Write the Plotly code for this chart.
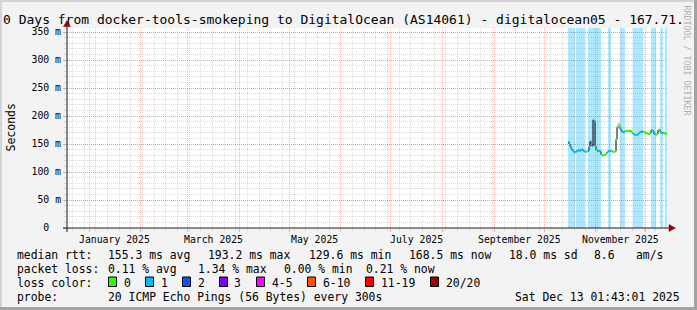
import plotly.graph_objects as go
import pandas as pd

# ---------------- data ----------------
title_text = "0 Days from docker-tools-smokeping to DigitalOcean (AS14061) - digitalocean05 - 167.71."
axis_start = "2024-12-18 19:00"
axis_end = "2025-12-13 19:00"
data_start = "2025-10-15 09:24"
step_minutes = 864  # one consolidated rrd step (14.4 h)

median_ms = [154, 150, 146, 142, 139, 137, 135, 135, 137, 138,
             139, 138, 138, 140, 140, 138, 137, 136, 136, 137,
             138, 145, 155, 150, 146, 193.2, 190, 146, 140, 138,
             138, 137, 137, 131, 130, 129.6, 130, 131, 133, 136,
             137, 137, 138, 137, 137, 136, 136, 137, 158, 180,
             181, 178, 177, 174, 172, 171, 172, 173, 173, 174,
             173, 173, 174, 172, 170, 168, 167, 166, 166, 167,
             168, 170, 172, 172, 172, 172, 171, 170, 170, 169,
             168, 168, 170, 174, 175, 172, 168, 167, 167, 168,
             175, 176, 172, 170, 169, 170, 170, 168, 168.5]

loss_pings = [1, 1, 1, 1, 1, 1, 1, 0, 1, 1,
              1, 1, 1, 1, 1, 1, 1, 0, 0, 0,
              1, 1, 1, 1, 1, 1, 1, 0.4, 0.4, 1,
              1, 1, 1, 0, 0, 0, 0, 0, 0, 0,
              1, 1, 1, 0, 0, 0, 0, 0, 0, 0,
              0, 0, 1, 1, 1, 1, 1, 0, 0, 0,
              0, 0, 0, 0, 0, 1, 1, 1, 1, 1,
              1, 1, 1, 1, 1, 0, 0, 0, 0, 0,
              0, 0, 0, 1, 1, 1, 1, 1, 0, 0,
              0, 0, 1, 1, 1, 0, 0, 0.3, 0.3]

smoke_index = [49, 50, 51, 52, 53]
smoke_top_ms = [184, 188, 188, 185, 181]

loss_labels = ["0", "1", "2", "3", "4-5", "6-10", "11-19", "20/20"]
loss_colors = ["#26ff00", "#00b8ff", "#0059ff", "#7e00ff", "#ff00ff", "#ff5500", "#ff0000", "#a10000"]
loss_upper = [0, 1, 2, 3, 5, 10, 19, 20]

y_tick_vals = [0, 50, 100, 150, 200, 250, 300, 350]
y_tick_text = ["0\u00a0\u00a0", "50 m", "100 m", "150 m", "200 m", "250 m", "300 m", "350 m"]
y_max = 357.14

month_label_dates = ["2025-01-16 12:00", "2025-03-16 12:00", "2025-05-16 12:00",
                     "2025-07-16 12:00", "2025-09-16 00:00", "2025-11-16 00:00"]
month_label_text = ["January 2025", "March 2025", "May 2025",
                    "July 2025", "September 2025", "November 2025"]

rtt_items = ["155.3 ms avg", "193.2 ms max", "129.6 ms min", "168.5 ms now", "18.0 ms sd", "8.6", "am/s"]
loss_items = ["0.11 % avg", "1.34 % max", "0.00 % min", "0.21 % now"]
probe_text = "20 ICMP Echo Pings (56 Bytes) every 300s"
stamp_text = "Sat Dec 13 01:43:01 2025"
watermark = "RRDTOOL / TOBI OETIKER"

# ---------------- layout helpers ----------------
W, H = 697, 310
L, R, T, B = 67, 30, 28, 82
PW, PH = W - L - R, H - T - B
FONT = "DejaVu Sans Mono"


def px(x):
    return (x - L) / PW


def py(y):
    return (T + PH - y) / PH


step = pd.Timedelta(minutes=step_minutes)
times = list(pd.date_range(data_start, periods=len(median_ms), freq=f"{step_minutes}min"))
t_end = times[-1] + step


def loss_class(v):
    r = round(v)
    for k, u in enumerate(loss_upper):
        if r <= u:
            return k
    return len(loss_upper) - 1


fig = go.Figure()

# smoke
sx = [times[i] for i in smoke_index] + [times[smoke_index[-1]] + step]
sb = [median_ms[i] for i in smoke_index] + [median_ms[smoke_index[-1]]]
st = smoke_top_ms + [smoke_top_ms[-1]]
fig.add_trace(go.Scatter(x=sx, y=sb, mode="lines", line=dict(width=0, shape="hv"),
                         hoverinfo="skip", showlegend=False))
fig.add_trace(go.Scatter(x=sx, y=st, mode="lines", line=dict(width=0, shape="hv"),
                         fill="tonexty", fillcolor="rgba(120,120,120,0.45)",
                         hoverinfo="skip", showlegend=False))

# black median step line
fig.add_trace(go.Scatter(x=times + [t_end], y=median_ms + [median_ms[-1]], mode="lines",
                         line=dict(color="#000000", width=1, shape="hv"),
                         hoverinfo="skip", showlegend=False))

# loss-coloured median segments
for k, col in enumerate(loss_colors):
    xs, ys = [], []
    for i, v in enumerate(median_ms):
        if loss_class(loss_pings[i]) == k:
            xs += [times[i], times[i] + step, None]
            ys += [v, v, None]
    if xs:
        fig.add_trace(go.Scatter(x=xs, y=ys, mode="lines", line=dict(color=col, width=2),
                                 hoverinfo="skip", showlegend=False))

shapes = []
# loss background bands
i = 0
n = len(loss_pings)
while i < n:
    if loss_pings[i] > 0:
        j = i
        while j + 1 < n and loss_pings[j + 1] > 0:
            j += 1
        shapes.append(dict(type="rect", xref="x", yref="paper",
                           x0=times[i].isoformat(), x1=(times[j] + step).isoformat(), y0=0, y1=1,
                           fillcolor="rgba(0,184,255,0.32)", line=dict(width=0), layer="below"))
        i = j + 1
    else:
        i += 1

axis_col = "#1a1a1a"
arrow_col = "#a00000"
# axes lines with arrows
shapes.append(dict(type="line", xref="paper", yref="paper", x0=px(67), x1=px(67), y0=py(232), y1=py(25),
                   line=dict(color=axis_col, width=1)))
shapes.append(dict(type="line", xref="paper", yref="paper", x0=px(63), x1=px(670), y0=py(228), y1=py(228),
                   line=dict(color=axis_col, width=1)))
shapes.append(dict(type="path", xref="paper", yref="paper",
                   path=f"M {px(63.5)} {py(26.5)} L {px(70.5)} {py(26.5)} L {px(67)} {py(20.5)} Z",
                   fillcolor=arrow_col, line=dict(color=arrow_col, width=0.5)))
shapes.append(dict(type="path", xref="paper", yref="paper",
                   path=f"M {px(669)} {py(224.5)} L {px(669)} {py(231.5)} L {px(675.5)} {py(228)} Z",
                   fillcolor=arrow_col, line=dict(color=arrow_col, width=0.5)))

# image frame
shapes.append(dict(type="rect", xref="paper", yref="paper", x0=px(0), x1=px(697), y0=py(0), y1=py(2),
                   fillcolor="#d4d4d4", line=dict(width=0)))
shapes.append(dict(type="rect", xref="paper", yref="paper", x0=px(0), x1=px(2), y0=py(0), y1=py(310),
                   fillcolor="#d4d4d4", line=dict(width=0)))
shapes.append(dict(type="rect", xref="paper", yref="paper", x0=px(0), x1=px(697), y0=py(307), y1=py(310),
                   fillcolor="#a3a3a3", line=dict(width=0)))
shapes.append(dict(type="rect", xref="paper", yref="paper", x0=px(694), x1=px(697), y0=py(0), y1=py(310),
                   fillcolor="#a3a3a3", line=dict(width=0)))

# legend colour squares
sq_x = [108.5, 145.5, 182.5, 219.5, 256.5, 307.5, 365.5, 430.5]
lab_x = [123.3, 160, 196.7, 233.3, 270.7, 321.7, 380.3, 445.3]
for k, col in enumerate(loss_colors):
    shapes.append(dict(type="rect", xref="paper", yref="paper",
                       x0=px(sq_x[k]), x1=px(sq_x[k] + 8), y0=py(277), y1=py(286.5),
                       fillcolor=col, line=dict(color="#000000", width=1)))

ann = []


def text(x, y, s, size=11.4, anchor="left", color="#000000", angle=0, xref="paper"):
    ann.append(dict(x=x if xref != "paper" else px(x), y=py(y), xref=xref, yref="paper", text=s,
                    showarrow=False, xanchor=anchor, yanchor="middle", textangle=angle,
                    borderpad=0, font=dict(family=FONT, size=size, color=color)))


text(1.5, 20, title_text, size=13)
text(10.5, 128, "Seconds", size=11.5, anchor="center", angle=-90)
text(686.5, 60, watermark, size=8.3, anchor="center", color="#b0b0b0", angle=90)

for d, s in zip(month_label_dates, month_label_text):
    text(d, 239, s, size=9.8, anchor="center", xref="x")

row_y = [255, 269, 283, 297]
text(16, row_y[0], "median rtt:")
for xx, s in zip([107.3, 207.3, 308, 407.7, 507.7, 593, 635.3], rtt_items):
    text(xx, row_y[0], s)
text(16, row_y[1], "packet loss:")
for xx, s in zip([107.3, 196.7, 283.3, 365.3], loss_items):
    text(xx, row_y[1], s)
text(16, row_y[2], "loss color:")
for xx, s in zip(lab_x, loss_labels):
    text(xx, row_y[2], s)
text(16, row_y[3], "probe:")
text(107.3, row_y[3], probe_text)
text(513.7, row_y[3], stamp_text)

mgrid = "rgba(235,60,60,0.38)"
grid = "rgba(140,140,140,0.3)"

fig.update_layout(
    width=W, height=H, margin=dict(l=L, r=R, t=T, b=B, pad=0),
    paper_bgcolor="#f3f3f3", plot_bgcolor="#ffffff",
    showlegend=False, shapes=shapes, annotations=ann,
    font=dict(family=FONT, color="#000000"),
    xaxis=dict(type="date", range=[axis_start, axis_end], showticklabels=False,
               dtick="M1", tick0="2025-01-01", showgrid=True, gridcolor=mgrid, griddash="1px,1px",
               gridwidth=1, ticks="outside", ticklen=3, tickcolor=mgrid, zeroline=False, showline=False,
               minor=dict(dtick=7 * 24 * 3600 * 1000, tick0="2024-12-22", showgrid=True, gridcolor=grid,
                          griddash="1px,1px", gridwidth=1, ticks="outside", ticklen=2, tickcolor=grid)),
    yaxis=dict(range=[0, y_max], tickmode="array", tickvals=y_tick_vals, ticktext=y_tick_text,
               tickfont=dict(family=FONT, size=9.8, color="#000000"),
               showgrid=True, gridcolor=mgrid, griddash="1px,1px", gridwidth=1,
               ticks="outside", ticklen=3, tickcolor=mgrid, zeroline=False, showline=False,
               minor=dict(dtick=10, tick0=0, showgrid=True, gridcolor=grid, griddash="1px,1px",
                          gridwidth=1, ticks="outside", ticklen=2, tickcolor=grid)),
)

fig.write_html("out.html")
